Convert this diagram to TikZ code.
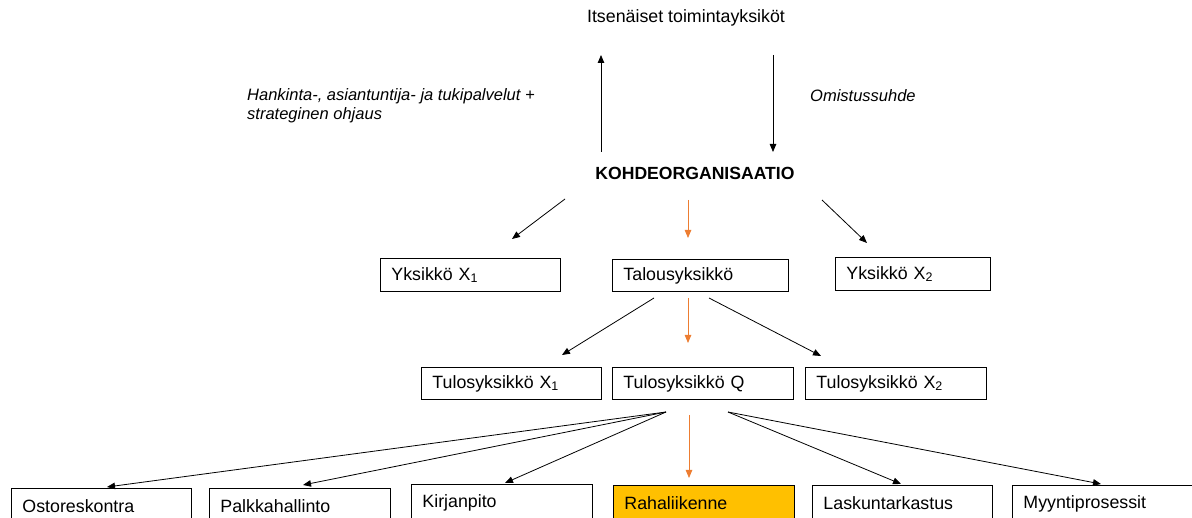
\documentclass[tikz,border=0pt]{standalone}
\usepackage{fontspec}
\setmainfont{Liberation Sans}
\usetikzlibrary{arrows.meta}
\definecolor{orng}{HTML}{ED7D31}
\definecolor{gold}{HTML}{FFC000}
\begin{document}
\begin{tikzpicture}[x=1pt,y=-1pt,
  font=\fontsize{17.8}{20}\selectfont,
  box/.style={draw, line width=0.9pt, anchor=north west, inner xsep=11pt, inner ysep=0pt,
    align=left, minimum height=33pt},
  lowbox/.style={box, minimum height=36pt},
  arr/.style={-{Triangle[length=8pt,width=6.5pt]}, line width=0.8pt},
  oarr/.style={arr, draw=orng},
  lbl/.style={inner sep=0pt},
  itl/.style={lbl, font=\fontsize{16.5}{19}\selectfont\itshape}]
\useasboundingbox (0,0) rectangle (1192,518);
\clip (0,0) rectangle (1192,518);

% top texts
\node[lbl] (top) at (686,18) {Itsenäiset toimintayksiköt};
\node[itl, anchor=west, align=left] (hank) at (247,105.5)
  {Hankinta-, asiantuntija- ja tukipalvelut +\\strateginen ohjaus};
\node[itl, anchor=west] (omis) at (810,96) {Omistussuhde};
\node[lbl, font=\fontsize{17.6}{20}\selectfont\bfseries] (kohde) at (695,173) {KOHDEORGANISAATIO};

% level 2
\node[box, text width=158pt] (yx1) at (380,258) {Yksikkö X\textsubscript{1}};
\node[box, text width=154pt, minimum height=32pt] (talous) at (612,259) {Talousyksikkö};
\node[box, text width=133pt] (yx2) at (835,257) {Yksikkö X\textsubscript{2}};

% level 3
\node[box, text width=158pt, minimum height=32pt] (tx1) at (421,367) {Tulosyksikkö X\textsubscript{1}};
\node[box, text width=159pt, minimum height=32pt] (tq) at (612,367) {Tulosyksikkö Q};
\node[box, text width=159pt, minimum height=32pt] (tx2) at (805,367) {Tulosyksikkö X\textsubscript{2}};

% level 4
\node[lowbox, text width=158pt] (ostor) at (11,488) {Ostoreskontra};
\node[lowbox, text width=159pt] (palkka) at (209,488) {Palkkahallinto};
\node[lowbox, text width=159pt] (kirja) at (411,484) {Kirjanpito};
\node[lowbox, text width=159pt, fill=gold] (raha) at (613,485) {Rahaliikenne};
\node[lowbox, text width=158pt] (lasku) at (812,485) {Laskuntarkastus};
\node[lowbox, text width=158pt] (myynti) at (1012,485) {Myyntiprosessit};

% connector end points
\coordinate (up0) at (601,152);  \coordinate (up1) at (601,55);
\coordinate (dn0) at (773,55);   \coordinate (dn1) at (773,152);
\coordinate (k1s) at (565,199);  \coordinate (k1e) at (512,239);
\coordinate (k2s) at (688,200);  \coordinate (k2e) at (688,238);
\coordinate (k3s) at (822,200);  \coordinate (k3e) at (867,243);
\coordinate (t1s) at (654,298);  \coordinate (t1e) at (562,355);
\coordinate (t2s) at (688,298);  \coordinate (t2e) at (688,343);
\coordinate (t3s) at (709,298);  \coordinate (t3e) at (821,356);
\coordinate (qL) at (666,412);   \coordinate (qR) at (728,412);
\coordinate (qM) at (689,415);
\coordinate (e1) at (107,487);   \coordinate (e2) at (303,485);
\coordinate (e3) at (505,483);   \coordinate (e4) at (689,478);
\coordinate (e5) at (901,484);   \coordinate (e6) at (1101,484);

\draw[arr] (up0) -- (up1);
\draw[arr] (dn0) -- (dn1);
\draw[arr] (k1s) -- (k1e);
\draw[oarr] (k2s) -- (k2e);
\draw[arr] (k3s) -- (k3e);
\draw[arr] (t1s) -- (t1e);
\draw[oarr] (t2s) -- (t2e);
\draw[arr] (t3s) -- (t3e);
\draw[arr] (qL) -- (e1);
\draw[arr] (qL) -- (e2);
\draw[arr] (qL) -- (e3);
\draw[oarr] (qM) -- (e4);
\draw[arr] (qR) -- (e5);
\draw[arr] (qR) -- (e6);
\end{tikzpicture}
\end{document}
